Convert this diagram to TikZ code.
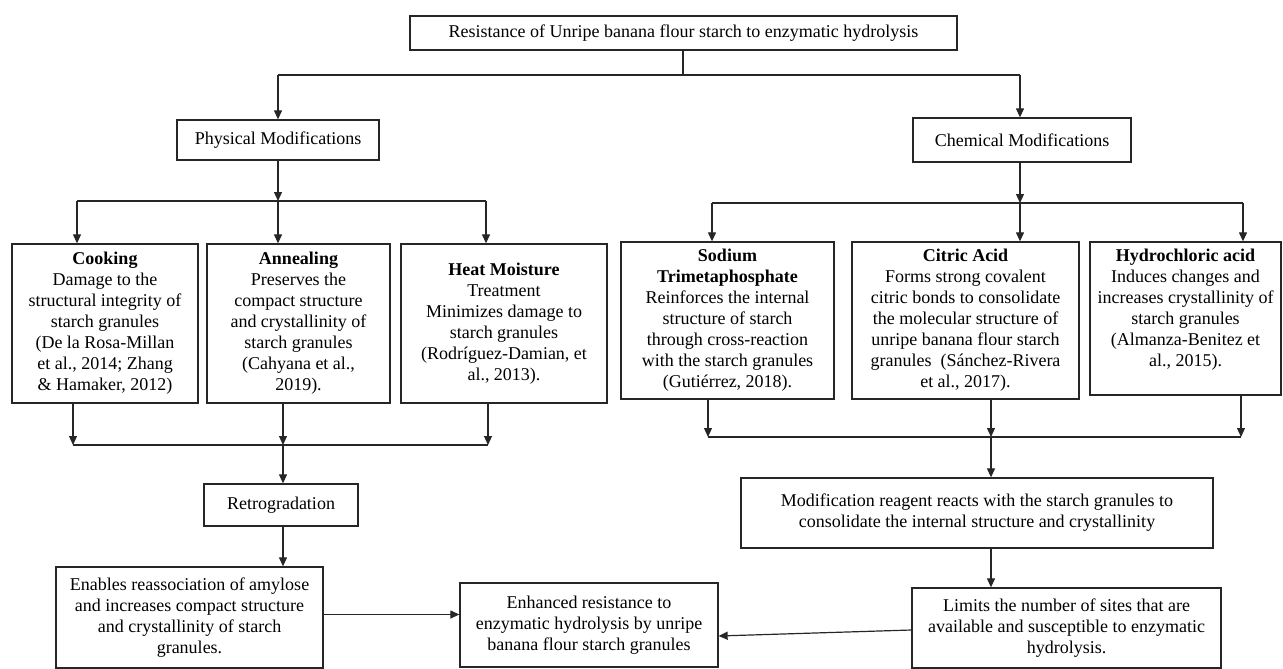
\documentclass[tikz,border=0pt]{standalone}
\usepackage{fontspec}
\setmainfont{Liberation Serif}
\usetikzlibrary{arrows.meta,calc}
\newcommand\mybox[6]{\node[box, minimum width={#4pt-#2pt}, minimum height={#5pt-#3pt}] (#1) at ({(#2+#4)/2},{(#3+#5)/2}) {#6};}
\begin{document}
\begin{tikzpicture}[x=1pt,y=-1pt,
  box/.style={draw=black!85, line width=1.3pt, align=center, inner sep=0pt, font=\fontsize{18}{21}\selectfont},
  conn/.style={line width=1.2pt, draw=black!85},
  arr/.style={conn, -{Triangle[length=9pt,width=8pt]}},
]
\useasboundingbox (0,0) rectangle (1283,669);
\mybox{top}{410}{16}{957}{50}{Resistance of Unripe banana flour starch to enzymatic hydrolysis}
\mybox{phys}{177}{120}{379}{160}{Physical Modifications}
\mybox{chem}{913}{118}{1131}{162}{Chemical Modifications}
\mybox{cook}{12}{244}{198}{403}{\textbf{Cooking}\\Damage to the\\structural integrity of\\starch granules\\(De la Rosa-Millan\\et al., 2014; Zhang\\\& Hamaker, 2012)}
\mybox{ann}{207}{244}{390}{403}{\textbf{Annealing}\\Preserves the\\compact structure\\and crystallinity of\\starch granules\\(Cahyana et al.,\\2019).}
\mybox{heat}{401}{244}{607}{403}{\textbf{Heat Moisture}\\Treatment\\Minimizes damage to\\starch granules\\(Rodríguez-Damian, et\\al., 2013).}
\mybox{sod}{621}{242}{834}{399}{\textbf{Sodium}\\\textbf{Trimetaphosphate}\\Reinforces the internal\\structure of starch\\through cross-reaction\\with the starch granules\\(Gutiérrez, 2018).}
\mybox{cit}{852}{242}{1079}{399}{\textbf{Citric Acid}\\Forms strong covalent\\citric bonds to consolidate\\the molecular structure of\\unripe banana flour starch\\granules\ \ (Sánchez-Rivera\\et al., 2017).}
\mybox{hyd}{1090}{242}{1281}{395}{\textbf{Hydrochloric acid}\\Induces changes and\\increases crystallinity of\\starch granules\\(Almanza-Benitez et\\al., 2015).\\[-6pt]\strut}
\mybox{retro}{204}{484}{358}{526}{Retrogradation}
\mybox{enab}{56}{567}{323}{668}{Enables reassociation of amylose\\and increases compact structure\\and crystallinity of starch\\granules.}
\mybox{enh}{460}{583}{718}{667}{Enhanced resistance to\\enzymatic hydrolysis by unripe\\banana flour starch granules}
\mybox{mod}{741}{478}{1213}{548}{Modification reagent reacts with the starch granules to\\consolidate the internal structure and crystallinity}
\mybox{lim}{912}{588}{1221}{668}{Limits the number of sites that are\\available and susceptible to enzymatic\\hydrolysis.}
% top split
\coordinate (jt) at (683,75);
\coordinate (jtL) at (278,75);
\coordinate (jtR) at (1020,75);
\draw[conn] (top.south -| jt) -- (jt);
\draw[conn] (jtL) -- (jtR);
\draw[arr] (jtL) -- (phys.north -| jtL);
\draw[arr] (jtR) -- (chem.north -| jtR);
% physical split
\coordinate (jp) at (278,201);
\coordinate (jpL) at (77,201);
\coordinate (jpR) at (486,201);
\draw[arr] (phys.south -| jp) -- (jp);
\draw[conn] (jpL) -- (jpR);
\draw[arr] (jpL) -- (cook.north -| jpL);
\draw[arr] (jp) -- (ann.north -| jp);
\draw[arr] (jpR) -- (heat.north -| jpR);
% chemical split
\coordinate (jc) at (1020,203);
\coordinate (jcL) at (712,203);
\coordinate (jcR) at (1243,203);
\draw[arr] (chem.south -| jc) -- (jc);
\draw[conn] (jcL) -- (jcR);
\draw[arr] (jcL) -- (sod.north -| jcL);
\draw[arr] (jc) -- (cit.north -| jc);
\draw[arr] (jcR) -- (hyd.north -| jcR);
% physical merge
\coordinate (bpL) at (73,445);
\coordinate (bpM) at (283,445);
\coordinate (bpR) at (488,445);
\draw[arr] (cook.south -| bpL) -- (bpL);
\draw[arr] (ann.south -| bpM) -- (bpM);
\draw[arr] (heat.south -| bpR) -- (bpR);
\draw[conn] (bpL) -- (bpR);
\draw[arr] (bpM) -- (retro.north -| bpM);
\draw[arr] (retro.south -| bpM) -- (enab.north -| bpM);
% chemical merge
\coordinate (bcL) at (708,437);
\coordinate (bcM) at (991,437);
\coordinate (bcR) at (1241,437);
\draw[arr] (sod.south -| bcL) -- (bcL);
\draw[arr] (cit.south -| bcM) -- (bcM);
\draw[arr] (hyd.south -| bcR) -- (bcR);
\draw[conn] (bcL) -- (bcR);
\draw[arr] (bcM) -- (mod.north -| bcM);
\draw[arr] (mod.south -| bcM) -- (lim.north -| bcM);
% to final
\draw[arr] ([yshift=3pt]enab.east) -- ([yshift=3pt]enab.east -| enh.west);
\draw[arr] ([yshift=-2pt]lim.west) -- ([yshift=-11pt]enh.east);
\end{tikzpicture}
\end{document}
